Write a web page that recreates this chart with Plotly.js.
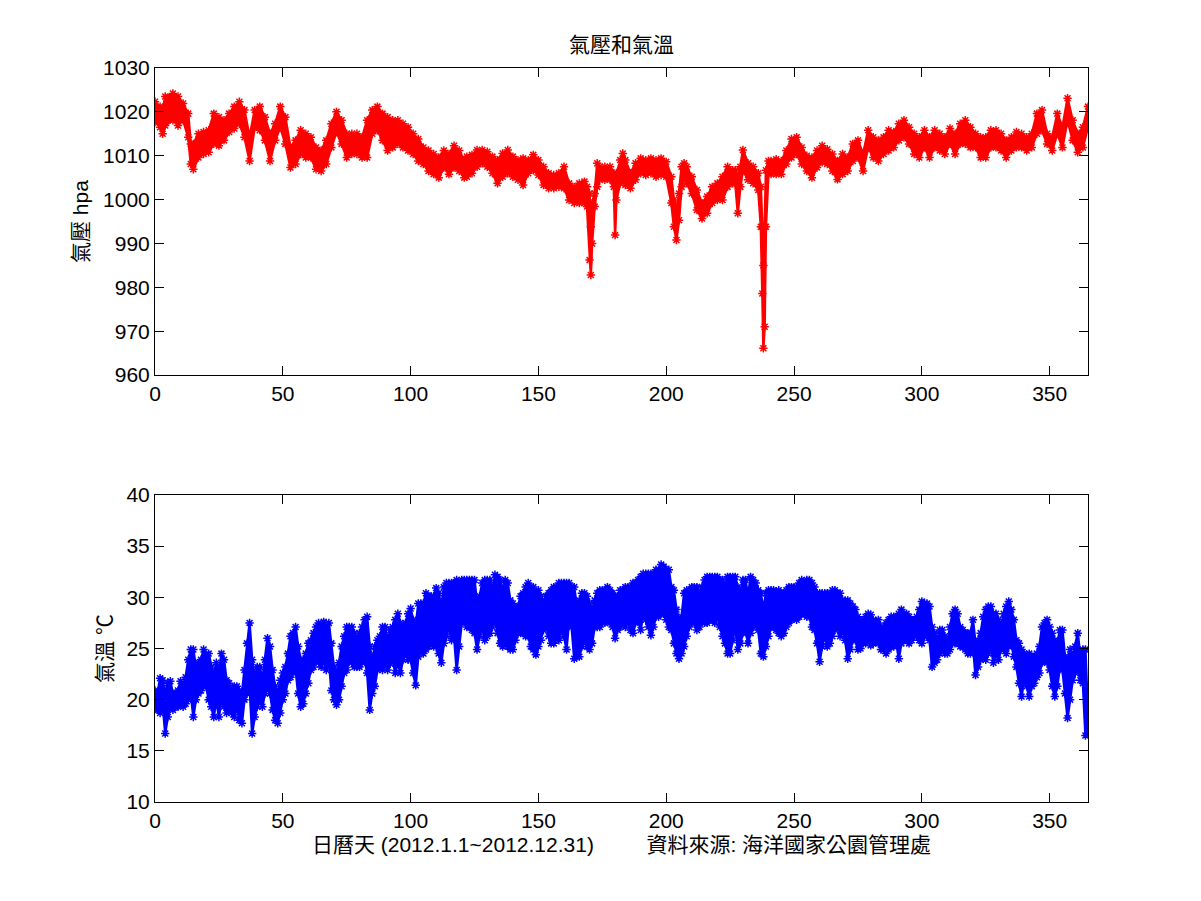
<!DOCTYPE html>
<html><head><meta charset="utf-8">
<script src="https://cdn.plot.ly/plotly-3.0.1.min.js"></script>
<style>body{margin:0;background:#fff}</style>
</head><body><div id="chart" style="width:1201px;height:901px"></div>
<script>
// ---- labels ----
const chartTitle = '氣壓和氣溫';
const pAxisTitle = '氣壓 hpa';
const tAxisTitle = '氣溫 ℃';
const xAxisTitle = '日曆天 (2012.1.1~2012.12.31)\u00a0\u00a0\u00a0\u00a0\u00a0\u00a0\u00a0\u00a0\u00a0資料來源: 海洋國家公園管理處';
const dayTicks = [0, 50, 100, 150, 200, 250, 300, 350];
const pTicks = [960, 970, 980, 990, 1000, 1010, 1020, 1030];
const tTicks = [10, 15, 20, 25, 30, 35, 40];

// ---- pressure (hpa): day, upper and lower edge of the hourly band ----
const pDay = [0,2,3,4,7,9,11,13,14,15,17,19,21,23,25,27,29,31,33,35,37,39,41,43,45,47,49,51,53,55,57,59,61,63,65,67,69,71,73,75,77,79,81,83,85,87,89,91,93,95,97,99,101,103,105,107,109,111,113,115,117,119,121,122,124,126,128,130,132,134,136,138,140,142,144,146,148,150,152,154,156,158,160,162,164,166,168,169,170,170.5,171,172,173,174,176,178,179.5,180,180.5,182,183,184,186,188,190,192,194,196,198,200,202,203,204,205,206,207,208,210,212,214,216,218,220,222,224,226,227,228,229,230,232,234,236,237,237.6,238,238.5,239,240,241,243,245,247,249,251,253,255,257,259,261,263,265,267,269,271,273,275,277,279,281,283,285,287,289,291,293,295,297,299,301,303,305,307,309,311,313,315,317,319,321,323,325,327,329,331,333,335,337,339,341,343,345,347,349,351,353,355,357,359,361,363,365];
const pHigh = [1022.3,1021.2,1020.4,1023.5,1024.2,1023.5,1021.9,1019.6,1012.7,1012.7,1015.0,1015.4,1015.8,1019.6,1018.8,1018.1,1019.6,1021.2,1022.3,1020.4,1014.2,1020.4,1021.2,1018.8,1015.0,1017.3,1021.2,1018.8,1011.9,1013.5,1015.8,1015.0,1014.2,1011.9,1011.2,1013.5,1017.3,1020.0,1018.1,1015.0,1015.0,1015.0,1014.2,1018.1,1020.4,1021.2,1019.6,1018.8,1018.1,1018.1,1017.3,1016.5,1015.0,1013.8,1011.9,1011.2,1010.4,1009.6,1011.2,1010.4,1012.3,1011.2,1008.8,1009.8,1010.2,1011.3,1011.3,1010.9,1009.8,1009.0,1010.5,1011.3,1009.8,1009.0,1009.4,1009.0,1010.2,1009.0,1007.5,1006.0,1005.6,1006.0,1007.5,1003.7,1002.9,1003.7,1004.1,1002.9,1001.4,993.8,999.2,1001.4,1008.3,1007.5,1007.5,1007.5,1006.0,1003.7,1006.0,1009.0,1010.5,1009.0,1006.0,1008.3,1009.4,1009.0,1009.4,1009.0,1009.4,1008.6,1005.2,999.9,997.6,1001.4,1007.5,1008.3,1007.5,1005.2,1002.2,999.2,1000.7,1002.9,1003.7,1005.2,1007.5,1006.7,1006.7,1005.2,1007.5,1011.3,1008.3,1007.5,1006.0,1002.9,993.8,985.0,993.8,1006.7,1008.8,1008.8,1009.2,1008.8,1011.2,1013.8,1014.2,1011.9,1010.0,1009.6,1011.2,1012.3,1011.5,1010.4,1008.8,1010.4,1009.6,1012.7,1013.5,1010.4,1015.8,1014.2,1013.5,1014.2,1015.8,1015.4,1017.3,1018.1,1016.5,1015.0,1014.2,1015.8,1014.2,1015.8,1015.0,1014.2,1016.2,1015.0,1017.3,1018.1,1016.5,1015.0,1014.2,1014.2,1015.8,1015.8,1015.0,1013.5,1014.2,1015.4,1015.0,1014.2,1015.0,1019.6,1020.4,1015.0,1014.2,1019.6,1016.5,1023.1,1018.1,1015.0,1016.5,1021.2];
const pLow = [1017.7,1016.5,1015.0,1016.9,1018.1,1016.9,1018.1,1014.2,1008.1,1006.9,1009.6,1010.4,1010.8,1012.7,1012.3,1013.5,1015.4,1016.2,1017.3,1014.2,1008.8,1016.5,1015.8,1013.5,1008.8,1013.5,1016.5,1012.7,1007.3,1008.1,1010.4,1009.6,1009.6,1006.9,1006.5,1008.1,1011.9,1015.4,1012.7,1009.6,1010.4,1010.4,1009.6,1009.6,1015.0,1015.8,1013.5,1011.2,1011.9,1012.7,1011.9,1011.2,1010.4,1008.8,1008.1,1006.5,1005.8,1005.0,1007.3,1005.8,1007.3,1006.5,1005.0,1005.2,1006.0,1007.5,1008.3,1007.5,1006.0,1003.7,1005.2,1006.0,1005.2,1004.5,1003.3,1006.0,1006.7,1005.6,1003.3,1002.6,1002.6,1002.9,1002.6,999.9,999.2,999.2,999.2,998.4,986.2,982.8,990.0,998.4,1002.9,1004.5,1004.5,1004.5,1002.9,991.9,999.9,1003.7,1004.5,1003.3,1002.6,1004.5,1006.0,1005.6,1006.0,1005.2,1005.6,1005.2,999.2,993.8,990.8,995.3,1002.9,1005.2,1003.7,1001.4,997.6,995.7,996.9,999.2,999.9,999.9,1002.9,1003.7,1003.7,996.9,1002.9,1006.7,1004.5,1003.7,1002.2,993.8,978.6,966.1,971.0,993.8,1006.0,1005.8,1005.8,1005.8,1008.1,1009.6,1010.4,1008.1,1006.5,1005.0,1007.3,1008.5,1008.1,1006.5,1004.6,1005.8,1006.5,1008.8,1009.6,1006.5,1011.9,1009.6,1008.8,1010.4,1011.2,1011.9,1013.5,1014.2,1012.7,1010.4,1009.6,1011.9,1009.6,1011.9,1011.2,1010.4,1012.7,1010.4,1012.7,1012.7,1011.9,1011.9,1009.6,1009.6,1011.9,1011.9,1011.2,1009.6,1011.2,1011.9,1011.9,1011.2,1011.9,1015.0,1015.8,1012.7,1011.2,1015.0,1011.9,1018.1,1013.5,1010.8,1011.9,1016.5];

// ---- temperature (°C): daily upper and lower edge, day 0..365 ----
const tHigh = [
20.9,20.6,22.1,21.9,20.6,21.6,21.8,20.6,20.6,20.9,
21.8,21.3,22.2,23.9,24.9,24.9,23.2,23.6,23.9,24.9,
24.2,24.5,23.2,22.2,23.6,22.6,24.5,23.9,21.9,21.6,
20.9,21.3,21.3,20.9,20.6,22.9,25.5,27.5,23.9,22.2,
23.2,23.2,21.9,23.9,26.0,25.2,22.9,21.3,20.6,21.9,
22.6,23.2,24.5,26.2,26.5,27.1,25.2,23.9,23.9,24.5,
25.5,25.8,26.5,27.1,27.5,27.1,27.6,26.8,27.5,25.5,
23.2,22.6,23.6,25.2,26.2,27.1,27.1,27.1,26.5,25.8,
26.5,27.1,27.8,28.1,25.2,23.9,25.2,25.8,26.2,27.1,
27.1,25.8,26.8,27.1,27.8,28.4,27.5,27.1,27.5,28.4,
28.9,27.8,27.1,29.4,29.4,29.4,30.4,30.1,30.1,30.1,
30.9,30.4,29.1,31.0,31.4,31.4,31.4,31.4,31.7,31.4,
31.7,31.7,31.7,31.7,31.7,31.7,29.4,30.1,31.4,31.7,
31.7,31.7,30.7,32.2,32.0,31.7,30.7,31.7,31.4,29.7,
29.4,28.8,29.1,30.1,30.4,31.0,31.4,31.0,31.0,30.4,
30.7,30.1,29.4,30.1,30.4,30.7,31.0,31.0,31.4,31.4,
31.4,31.4,31.4,31.0,31.0,29.1,29.7,30.4,30.4,30.1,
29.4,28.8,29.7,30.4,30.7,30.7,30.7,31.0,30.7,30.4,
30.1,30.1,30.7,30.7,31.0,31.0,31.0,31.4,31.4,31.7,
32.0,32.3,32.3,32.3,32.3,32.3,32.7,32.7,33.2,33.0,
32.7,32.7,31.0,30.7,28.8,27.8,28.1,30.4,30.7,30.7,
31.0,31.0,31.0,30.4,31.0,31.7,32.0,32.0,32.0,32.0,
32.0,31.7,31.7,31.0,32.0,32.0,32.0,32.0,31.0,30.4,
31.7,31.7,30.1,32.0,31.7,31.4,30.7,30.4,28.8,30.4,
30.7,30.7,30.7,30.4,30.7,30.4,30.4,30.7,31.0,31.0,
31.0,31.0,31.4,31.7,31.4,31.7,31.7,31.4,31.0,30.4,
30.4,30.4,30.4,30.4,30.1,30.7,30.7,30.4,30.4,29.7,
29.7,29.7,29.4,29.1,28.8,28.1,27.5,27.8,28.1,28.4,
28.3,27.8,27.6,27.8,27.1,27.1,27.5,27.8,28.1,28.1,
28.1,28.4,28.8,28.4,28.4,28.1,27.8,27.8,28.1,28.8,
29.6,29.4,29.4,29.1,27.1,26.5,25.8,26.8,26.8,26.2,
25.5,27.1,28.4,28.8,28.4,27.1,26.8,26.5,26.5,26.5,
27.8,25.5,25.8,26.5,28.1,28.8,29.1,29.1,28.4,28.4,
27.8,27.1,28.4,29.1,29.6,28.8,27.8,25.8,25.5,24.9,
24.5,24.2,24.5,24.2,24.2,24.5,25.2,27.1,27.5,27.8,
27.1,26.5,25.8,25.5,26.8,26.8,24.2,23.9,24.9,24.2,
25.2,26.5,24.2,24.9,24.9,18.3];
const tLow = [
19.3,19.0,18.7,19.6,16.7,18.3,19.3,19.0,19.3,19.3,
19.6,19.3,19.6,20.0,20.6,18.3,20.0,20.6,20.9,21.3,
21.3,20.0,19.3,18.3,20.0,18.3,20.0,19.3,18.7,19.0,
18.7,18.3,19.3,18.0,17.7,20.0,20.6,21.3,16.7,18.3,
19.3,20.0,19.3,20.6,21.3,20.6,19.0,18.0,17.7,18.7,
20.0,20.6,21.9,22.2,22.6,22.9,20.6,19.3,19.6,20.6,
21.6,22.9,23.2,23.9,23.6,23.2,23.9,22.9,23.9,20.9,
20.0,19.5,20.0,21.3,22.6,22.9,23.9,23.6,23.2,23.2,
23.2,23.6,23.9,22.6,19.0,20.6,21.3,22.9,23.2,22.9,
23.6,22.9,23.5,23.9,22.6,23.6,22.6,23.9,24.5,23.9,
23.9,22.6,21.4,24.2,24.9,24.5,24.9,25.2,25.5,25.2,
25.2,24.5,23.6,25.5,26.2,27.1,25.8,26.2,22.9,25.2,
27.5,27.8,27.1,27.1,26.8,26.5,24.9,26.2,27.1,25.8,
26.2,26.5,27.1,27.8,26.5,25.5,25.2,25.5,25.2,24.9,
24.9,25.8,26.5,26.5,26.5,26.2,26.2,25.2,24.9,24.4,
25.2,25.8,26.8,27.1,26.2,25.5,25.5,26.2,25.8,26.8,
26.2,24.9,27.8,27.1,24.0,24.2,24.2,25.2,25.8,25.2,
24.9,25.5,27.1,27.1,27.1,27.5,27.5,27.8,27.5,27.1,
26.0,26.8,27.1,27.5,27.1,27.8,26.8,26.5,27.5,27.8,
26.8,28.4,27.8,27.1,26.3,27.1,28.1,28.1,28.4,28.4,
27.8,27.1,26.8,25.5,24.5,24.0,24.5,25.2,26.2,27.1,
27.5,27.5,26.8,27.1,27.8,27.5,27.5,27.8,27.8,27.5,
28.1,27.1,26.2,25.5,24.5,24.5,25.8,27.1,24.9,25.5,
26.5,26.8,25.5,26.5,27.1,27.5,26.8,24.5,24.2,25.2,
26.2,27.1,27.1,26.8,26.5,26.2,26.5,27.1,27.5,27.8,
28.1,27.8,28.1,28.4,28.4,28.1,28.1,27.1,26.8,25.5,
23.7,25.2,26.2,25.2,25.5,26.2,26.8,27.1,26.2,26.8,
25.8,24.0,24.9,25.8,25.8,24.9,25.0,25.5,25.5,25.8,
25.3,25.5,25.7,25.5,24.9,24.9,24.5,24.9,25.2,25.2,
25.5,24.0,25.5,25.8,25.8,25.5,25.8,26.2,26.2,25.8,
25.5,26.2,26.2,25.8,23.2,23.6,23.9,24.5,24.9,24.5,
24.5,24.9,25.5,25.5,25.8,25.2,25.2,24.9,24.5,24.5,
25.2,22.4,23.2,23.9,24.2,23.9,24.5,25.2,23.6,24.5,
23.9,24.9,24.9,24.5,25.2,25.5,24.2,23.2,21.6,20.3,
21.9,21.3,20.3,21.3,21.6,22.2,22.6,23.6,23.9,23.6,
22.9,21.3,20.3,21.3,23.2,22.9,20.6,18.2,20.0,21.9,
22.6,22.9,21.9,21.6,16.5,16.7];
const tDay = tHigh.map((_, i) => i);

// ---- styling ----
const RED = 'rgb(255,0,0)';
const BLUE = 'rgb(0,0,255)';
const FONT = '"Liberation Sans", Arial, "Noto Sans CJK TC", sans-serif';

function band(x, lo, hi, color, xa, ya) {
  const mk = {symbol: 'asterisk-open', size: 7, color: color, line: {color: color, width: 1.5}};
  return [
    {x: x, y: lo, xaxis: xa, yaxis: ya, type: 'scatter', mode: 'lines+markers',
     line: {color: color, width: 2.5}, marker: mk, hoverinfo: 'skip', showlegend: false},
    {x: x, y: hi, xaxis: xa, yaxis: ya, type: 'scatter', mode: 'lines+markers',
     line: {color: color, width: 2.5}, marker: mk, fill: 'tonexty', fillcolor: color,
     hoverinfo: 'skip', showlegend: false}
  ];
}

const data = [].concat(
  band(pDay, pLow, pHigh, RED, 'x', 'y'),
  band(tDay, tLow, tHigh, BLUE, 'x2', 'y2')
);

const axisBase = {
  showline: true, linecolor: '#000', linewidth: 1, mirror: 'ticks',
  ticks: 'inside', ticklen: 9, tickwidth: 1, tickcolor: '#000',
  showgrid: false, zeroline: false,
  tickfont: {family: FONT, size: 21, color: '#000'}
};

const layout = {
  width: 1201, height: 901,
  paper_bgcolor: '#fff', plot_bgcolor: '#fff',
  margin: {l: 155, r: 113, t: 68, b: 99},
  font: {family: FONT, color: '#000'},
  showlegend: false,
  title: {text: chartTitle, font: {family: FONT, size: 21, color: '#000'},
          x: 0.5, xref: 'paper', y: 1 - 45 / 901, yref: 'container', yanchor: 'middle'},
  xaxis: Object.assign({}, axisBase, {domain: [0, 1], anchor: 'y', range: [0, 365], tickvals: dayTicks}),
  yaxis: Object.assign({}, axisBase, {domain: [0.5817, 1], anchor: 'x', range: [960, 1030], tickvals: pTicks,
          title: {text: pAxisTitle, font: {family: FONT, size: 21, color: '#000'}, standoff: 8}}),
  xaxis2: Object.assign({}, axisBase, {domain: [0, 1], anchor: 'y2', range: [0, 365], tickvals: dayTicks,
          title: {text: xAxisTitle, font: {family: FONT, size: 21, color: '#000'}, standoff: 6}}),
  yaxis2: Object.assign({}, axisBase, {domain: [0, 0.4183], anchor: 'x2', range: [10, 40], tickvals: tTicks,
          title: {text: tAxisTitle, font: {family: FONT, size: 21, color: '#000'}, standoff: 8}})
};

Plotly.newPlot('chart', data, layout, {staticPlot: true, displayModeBar: false});
</script>
</body></html>
